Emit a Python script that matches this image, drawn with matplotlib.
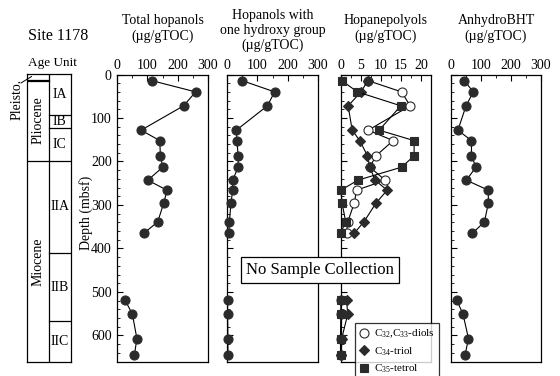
import numpy as np
import matplotlib
matplotlib.use("Agg")
import matplotlib.pyplot as plt
from matplotlib.lines import Line2D

plt.rcParams['font.family'] = ['Liberation Serif', 'DejaVu Serif']
plt.rcParams['mathtext.fontset'] = 'custom'
plt.rcParams['mathtext.rm'] = 'Liberation Serif'
plt.rcParams['mathtext.it'] = 'Liberation Serif:italic'

# sample depths (mbsf); NaN marks the gap with no samples
depth = [14, 40, 72, 128, 152, 187, 213, 243, 266, 296, 339, 365, np.nan,
         519, 551, 607, 644]
total_hopanols = [114, 260, 220, 79, 141, 143, 151, 101, 165, 154, 134, 88, np.nan,
                  26, 50, 65, 57]
one_hydroxy = [49, 157, 133, 30, 32, 36, 36, 18, 18, 12, 7, 5, np.nan,
               1, 1, 2, 2]
diols = [6.8, 15.2, 17.3, 6.9, 13.1, 8.8, 7.3, 11.1, 4.0, 3.4, 1.8, 1.5, np.nan,
         0.2, 0.2, 0.1, 0.1]
triol = [6.8, 5.1, 1.9, 2.9, 4.8, 6.7, 7.3, 8.6, 11.6, 8.8, 5.8, 3.4, np.nan,
         1.5, 1.8, 0.3, 0.2]
tetrol = [0.3, 4.2, 15.0, 9.6, 18.3, 18.3, 15.2, 4.3, 0.1, 0.4, 1.3, 0.0, np.nan,
          0.1, 0.1, 0.0, 0.0]
anhydro_bht = [45, 75, 51, 24, 69, 69, 84, 52, 125, 125, 112, 72, np.nan,
               20, 41, 59, 48]

# lithology boundaries (mbsf)
age_bounds = [13, 199]
unit_bounds = [93, 125, 199, 411, 567]
unit_names = ['IA', 'IB', 'IC', 'IIA', 'IIB', 'IIC']
max_depth = 661

W, H = 560, 376
fig = plt.figure(figsize=(W / 100, H / 100), dpi=100)
dark = '#2b2b2b'


def add_ax(x0, x1, y0=74.5, y1=362):
    return fig.add_axes([x0 / W, 1 - y1 / H, (x1 - x0) / W, (y1 - y0) / H])


def style_ax(ax, xmax, xticks, xminor, show_y):
    ax.set_ylim(max_depth, 0)
    ax.set_xlim(0, xmax)
    ax.set_xticks(xticks)
    ax.set_xticks(xminor, minor=True)
    ax.set_yticks(range(0, 700, 100))
    ax.set_yticks(range(0, 661, 20), minor=True)
    ax.xaxis.set_ticks_position('top')
    ax.tick_params(axis='both', which='both', direction='in', labelsize=10,
                   bottom=False, right=False, pad=2)
    ax.tick_params(axis='both', which='major', length=4, width=0.8)
    ax.tick_params(axis='both', which='minor', length=2.5, width=0.6)
    ax.tick_params(axis='y', labelleft=show_y, pad=4)
    for s in ax.spines.values():
        s.set_linewidth(0.9)


def plot_series(ax, x, marker='o', ms=6.5, mfc=dark, label=None):
    ax.plot(x, depth, color='black', lw=0.8, marker=marker, ms=ms, mfc=mfc,
            mec=dark, mew=0.8, label=label, clip_on=False, zorder=3)


# lithology column
lax = add_ax(26.7, 70.7, 74, 362)
lax.set_xlim(0, 2)
lax.set_ylim(max_depth, 0)
lax.set_xticks([])
lax.set_yticks([])
for s in lax.spines.values():
    s.set_linewidth(0.9)
lax.axvline(1, color='black', lw=0.9)
lax.plot([0, 1], [age_bounds[0], age_bounds[0]], color='black', lw=0.9)
lax.plot([0.05, 1], [age_bounds[0] + 3, age_bounds[0] + 3], color='black', lw=0.9)
lax.plot([0, 1], [age_bounds[1], age_bounds[1]], color='black', lw=0.9)
for b in unit_bounds:
    lax.plot([1, 2], [b, b], color='black', lw=0.9)
lax.text(0.5, (age_bounds[0] + age_bounds[1]) / 2, 'Pliocene', rotation=90,
         ha='center', va='center', fontsize=10)
lax.text(0.5, (age_bounds[1] + max_depth) / 2, 'Miocene', rotation=90,
         ha='center', va='center', fontsize=10)
edges = [0] + unit_bounds + [max_depth]
for name, a, b in zip(unit_names, edges[:-1], edges[1:]):
    lax.text(1.5, (a + b) / 2, name, ha='center', va='center', fontsize=10)

fig.text(28 / W, 1 - 40 / H, 'Site 1178', fontsize=11.5, ha='left', va='baseline')
fig.text(28 / W, 1 - 66 / H, 'Age Unit', fontsize=9.5, ha='left', va='baseline')
fig.text(17 / W, 1 - 99 / H, 'Pleisto.', rotation=90, fontsize=10,
         ha='center', va='center')
fig.add_artist(Line2D([21 / W, 31.5 / W], [1 - 83 / H, 1 - 76.5 / H],
                      color='black', lw=0.7))
fig.text(86 / W, 1 - 213 / H, 'Depth (mbsf)', rotation=90, fontsize=10,
         ha='center', va='center')

# panels
ax1 = add_ax(117.3, 207.7)
style_ax(ax1, 300, [0, 100, 200, 300], [50, 150, 250], True)
plot_series(ax1, total_hopanols)

ax2 = add_ax(227.3, 317.7)
style_ax(ax2, 300, [0, 100, 200, 300], [50, 150, 250], False)
plot_series(ax2, one_hydroxy)

ax3 = add_ax(340.5, 431)
style_ax(ax3, 22.5, [0, 5, 10, 15, 20], [2.5, 7.5, 12.5, 17.5], False)
plot_series(ax3, diols, 'o', 6.5, 'white', r'C$_{32}$,C$_{33}$-diols')
plot_series(ax3, triol, 'D', 5.5, dark, r'C$_{34}$-triol')
plot_series(ax3, tetrol, 's', 6, dark, r'C$_{35}$-tetrol')

ax4 = add_ax(450.7, 541)
style_ax(ax4, 300, [0, 100, 200, 300], [50, 150, 250], False)
plot_series(ax4, anhydro_bht)

# panel titles
titles = [
    (162.5, ['Total hopanols', '(µg/gTOC)'], [24, 40]),
    (272.5, ['Hopanols with', 'one hydroxy group', '(µg/gTOC)'], [19, 34, 49]),
    (385.7, ['Hopanepolyols', '(µg/gTOC)'], [24, 40]),
    (496, ['AnhydroBHT', '(µg/gTOC)'], [24, 40]),
]
for xc, lines, ys in titles:
    for t, y in zip(lines, ys):
        fig.text(xc / W, 1 - y / H, t, fontsize=10, ha='center', va='baseline')

fig.text(320 / W, 1 - 270 / H, 'No Sample Collection', fontsize=12,
         ha='center', va='center',
         bbox=dict(boxstyle='square,pad=0.3', fc='white', ec='black', lw=0.9))

leg = fig.legend(*ax3.get_legend_handles_labels(), loc='lower left',
                 bbox_to_anchor=(355 / W, -0.01), fontsize=8, frameon=True,
                 fancybox=False, handlelength=0.8, handletextpad=0.5,
                 borderpad=0.4, labelspacing=0.45, borderaxespad=0)
leg.get_frame().set_edgecolor('black')
leg.get_frame().set_linewidth(0.9)
for h in leg.legend_handles:
    h.set_linestyle('none')

fig.savefig('out.png', dpi=100)
